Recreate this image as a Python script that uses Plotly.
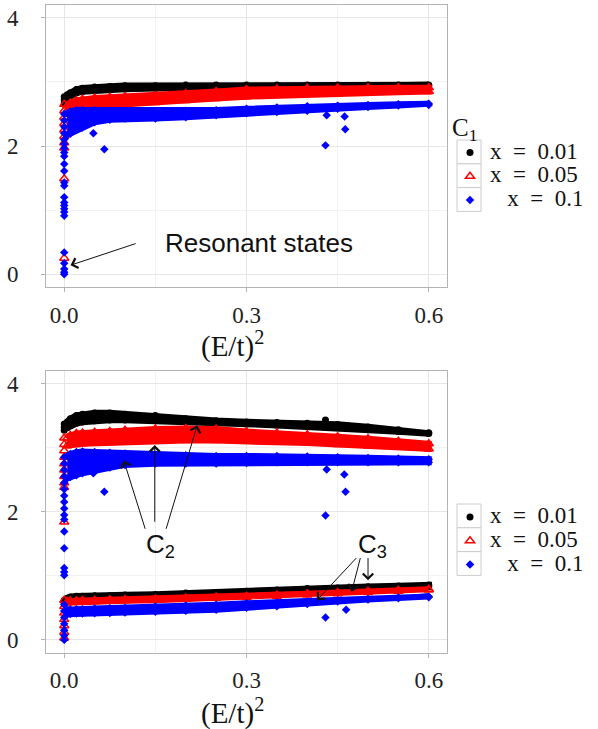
import plotly.graph_objects as go

# ---------------------------------------------------------------------------
# Data: (E/t)^2 positions of the band samples and the band envelopes
# (marker-centre upper / lower values) for each doping x.
# ---------------------------------------------------------------------------
e2 = [0.005, 0.01, 0.02, 0.03, 0.05, 0.075, 0.1, 0.15, 0.2, 0.25,
      0.3, 0.35, 0.4, 0.45, 0.5, 0.55, 0.6]

# Upper panel: C1
c1_x001_hi = [2.80, 2.83, 2.88, 2.90, 2.92, 2.93, 2.94, 2.94, 2.95, 2.95,
              2.95, 2.95, 2.95, 2.95, 2.95, 2.95, 2.95]
c1_x001_lo = [2.75, 2.79, 2.83, 2.85, 2.87, 2.88, 2.89, 2.90, 2.91, 2.91,
              2.92, 2.92, 2.93, 2.93, 2.93, 2.94, 2.94]
c1_x005_hi = [2.63, 2.67, 2.71, 2.73, 2.75, 2.76, 2.77, 2.79, 2.82, 2.85,
              2.88, 2.89, 2.90, 2.905, 2.91, 2.91, 2.91]
c1_x005_lo = [2.55, 2.57, 2.60, 2.62, 2.64, 2.65, 2.66, 2.68, 2.71, 2.74,
              2.77, 2.79, 2.81, 2.82, 2.83, 2.84, 2.85]
c1_x01_hi = [2.51, 2.54, 2.56, 2.56, 2.56, 2.55, 2.54, 2.54, 2.55, 2.56,
             2.58, 2.60, 2.62, 2.63, 2.64, 2.65, 2.66]
c1_x01_lo = [2.17, 2.19, 2.25, 2.29, 2.37, 2.41, 2.43, 2.43, 2.45, 2.48,
             2.51, 2.53, 2.55, 2.58, 2.61, 2.63, 2.64]

# States at E ~ 0 and isolated points (C1)
c1_x001_px = [0.0, 0.0, 0.0]
c1_x001_py = [2.77, 2.72, 2.67]
c1_x005_px = [0.0, 0.0, 0.0, 0.0, 0.0, 0.0, 0.0, 0.0, 0.0, 0.0]
c1_x005_py = [2.65, 2.55, 2.45, 2.35, 2.25, 2.15, 2.05, 1.97, 1.49, 0.25]
c1_x01_px = [0.0] * 24 + [0.048, 0.066, 0.43, 0.432, 0.4615, 0.4625]
c1_x01_py = [2.5, 2.4, 2.3, 2.2, 2.1, 2.03, 1.96, 1.9, 1.84, 1.72, 1.61,
             1.43, 1.38, 1.2, 1.12, 1.07, 1.02, 0.97, 0.91, 0.34, 0.17,
             0.08, 0.03, 0.0,
             2.2, 1.95, 2.01, 2.48, 2.46, 2.26]

# Lower panel: C2 (upper bands)
c2_x001_hi = [3.40, 3.45, 3.50, 3.52, 3.54, 3.54, 3.52, 3.50, 3.45, 3.42,
              3.40, 3.39, 3.38, 3.36, 3.32, 3.28, 3.23]
c2_x001_lo = [3.31, 3.35, 3.38, 3.40, 3.42, 3.43, 3.43, 3.42, 3.41, 3.39,
              3.37, 3.35, 3.33, 3.31, 3.28, 3.25, 3.22]
c2_x005_hi = [3.15, 3.19, 3.22, 3.23, 3.24, 3.25, 3.27, 3.29, 3.30, 3.29,
              3.25, 3.23, 3.20, 3.17, 3.14, 3.10, 3.06]
c2_x005_lo = [3.03, 3.05, 3.05, 3.06, 3.07, 3.08, 3.09, 3.10, 3.11, 3.11,
              3.10, 3.09, 3.07, 3.05, 3.03, 3.01, 2.98]
c2_x01_hi = [2.87, 2.90, 2.93, 2.94, 2.93, 2.92, 2.91, 2.89, 2.88, 2.87,
             2.87, 2.87, 2.86, 2.85, 2.84, 2.83, 2.82]
c2_x01_lo = [2.52, 2.54, 2.57, 2.60, 2.64, 2.69, 2.73, 2.75, 2.75, 2.75,
             2.76, 2.77, 2.77, 2.77, 2.77, 2.77, 2.77]

# Lower panel: C3 (lower bands)
c3_x001_hi = [0.65, 0.67, 0.68, 0.68, 0.69, 0.69, 0.70, 0.71, 0.73, 0.74,
              0.76, 0.78, 0.80, 0.81, 0.83, 0.84, 0.855]
c3_x001_lo = [0.62, 0.64, 0.65, 0.65, 0.66, 0.66, 0.67, 0.68, 0.70, 0.71,
              0.73, 0.75, 0.77, 0.78, 0.80, 0.81, 0.83]
c3_x005_hi = [0.60, 0.61, 0.61, 0.615, 0.62, 0.625, 0.63, 0.64, 0.655, 0.67,
              0.68, 0.70, 0.72, 0.74, 0.76, 0.775, 0.79]
c3_x005_lo = [0.58, 0.59, 0.59, 0.595, 0.60, 0.605, 0.61, 0.62, 0.635, 0.65,
              0.66, 0.68, 0.70, 0.72, 0.74, 0.76, 0.78]
c3_x01_hi = [0.47, 0.475, 0.48, 0.48, 0.49, 0.495, 0.50, 0.52, 0.535, 0.55,
             0.57, 0.585, 0.60, 0.62, 0.64, 0.66, 0.675]
c3_x01_lo = [0.40, 0.405, 0.41, 0.41, 0.415, 0.42, 0.425, 0.44, 0.455, 0.47,
             0.50, 0.525, 0.56, 0.60, 0.63, 0.65, 0.665]

# States at E ~ 0 and isolated points (C2 and C3)
c23_x001_px = [0.0, 0.0, 0.0, 0.0, 0.0, 0.43]
c23_x001_py = [3.37, 3.31, 3.27, 0.62, 0.57, 3.43]
c23_x005_px = [0.0] * 17
c23_x005_py = [3.15, 3.05, 2.95, 2.85, 2.75, 2.65, 2.55, 2.45, 2.38, 1.84,
               0.62, 0.52, 0.42, 0.32, 0.22, 0.12, 0.03]
c23_x01_px = [0.0] * 23 + [0.048, 0.066, 0.432, 0.461, 0.463, 0.43, 0.43, 0.464]
c23_x01_py = [2.85, 2.75, 2.65, 2.55, 2.45, 2.35, 2.25, 2.15, 2.05, 1.95,
              1.88, 1.69, 1.43, 1.12, 1.06, 1.01,
              0.55, 0.45, 0.35, 0.25, 0.15, 0.07, 0.0,
              2.6, 2.31, 2.66, 2.58, 2.31, 1.94, 0.35, 0.47]

labels = ["x&nbsp;&nbsp;=&nbsp;&nbsp;0.01", "x&nbsp;&nbsp;=&nbsp;&nbsp;0.05",
          "&nbsp;&nbsp;&nbsp;x&nbsp;&nbsp;=&nbsp;&nbsp;0.1"]
x_ticks = [0.0, 0.3, 0.6]
x_ticktext = ["0.0", "0.3", "0.6"]
y_ticks = [0, 2, 4]

# ---------------------------------------------------------------------------
SERIF = "Liberation Serif, Times New Roman, serif"
SANS = "Liberation Sans, Arial, sans-serif"
colors = ["#000000", "#ff0000", "#0000ff"]
symbols = ["circle", "triangle-up-open", "diamond"]
msizes = [7, 8, 6.5]
band_w = [6.5, 6, 6]
W, H = 598, 729

fig = go.Figure()


def add_band(hi, lo, k, xa, ya):
    fig.add_trace(go.Scatter(
        x=e2 + e2[::-1], y=hi + lo[::-1], mode="lines", fill="toself",
        fillcolor=colors[k], line=dict(color=colors[k], width=band_w[k]),
        xaxis=xa, yaxis=ya, showlegend=False, hoverinfo="skip"))


def add_points(xs, ys, k, xa, ya, legend):
    fig.add_trace(go.Scatter(
        x=xs, y=ys, mode="markers",
        name=f"<span style='font-size:23px'>{labels[k]}</span>",
        marker=dict(symbol=symbols[k], size=msizes[k], color=colors[k],
                    line=dict(color=colors[k], width=1.5 if k == 1 else 0)),
        xaxis=xa, yaxis=ya, legend=legend))


# Upper panel
top = [(c1_x001_hi, c1_x001_lo, c1_x001_px, c1_x001_py),
       (c1_x005_hi, c1_x005_lo, c1_x005_px, c1_x005_py),
       (c1_x01_hi, c1_x01_lo, c1_x01_px, c1_x01_py)]
for k, (hi, lo, px, py) in enumerate(top):
    add_band(hi, lo, k, "x", "y")
    add_points(e2 + e2 + px, hi + lo + py, k, "x", "y", "legend")

# Lower panel
bottom = [(c2_x001_hi, c2_x001_lo, c3_x001_hi, c3_x001_lo, c23_x001_px, c23_x001_py),
          (c2_x005_hi, c2_x005_lo, c3_x005_hi, c3_x005_lo, c23_x005_px, c23_x005_py),
          (c2_x01_hi, c2_x01_lo, c3_x01_hi, c3_x01_lo, c23_x01_px, c23_x01_py)]
for k, (hi2, lo2, hi3, lo3, px, py) in enumerate(bottom):
    add_band(hi2, lo2, k, "x2", "y2")
    add_band(hi3, lo3, k, "x2", "y2")
    add_points(e2 * 4 + px, hi2 + lo2 + hi3 + lo3 + py, k, "x2", "y2", "legend2")

x_dom = [46 / W, 447 / W]
y1_dom = [1 - 287 / H, 1 - 5 / H]
y2_dom = [1 - 652.7 / H, 1 - 370.7 / H]

axis_common = dict(
    showline=True, mirror=True, linecolor="#b3b3b3", linewidth=1,
    ticks="outside", ticklen=4, tickcolor="#b3b3b3", tickwidth=1,
    showgrid=True, gridcolor="#e6e6e6", gridwidth=1, zeroline=False,
    tickfont=dict(family=SERIF, size=23, color="#222222"),
    automargin=False,
)
xaxis_common = dict(axis_common, range=[-0.03, 0.63], tickvals=x_ticks,
                    ticktext=x_ticktext, ticklabelstandoff=3,
                    minor=dict(tickvals=[0.15, 0.45], showgrid=True,
                               gridcolor="#f2f2f2", gridwidth=1, ticks=""))
yaxis_common = dict(axis_common, range=[-0.2, 4.2], tickvals=y_ticks,
                    ticklabelstandoff=18,
                    minor=dict(tickvals=[1, 3], showgrid=True,
                               gridcolor="#f2f2f2", gridwidth=1, ticks=""))

legend_common = dict(xanchor="left", yanchor="top", bgcolor="rgba(0,0,0,0)",
                     font=dict(family=SERIF, size=16, color="#111111"),
                     tracegroupgap=0, itemclick=False, itemdoubleclick=False)

fig.update_layout(
    width=W, height=H, margin=dict(l=0, r=0, t=0, b=0),
    paper_bgcolor="white", plot_bgcolor="white",
    xaxis=dict(xaxis_common, domain=x_dom, anchor="y"),
    yaxis=dict(yaxis_common, domain=y1_dom, anchor="x"),
    xaxis2=dict(xaxis_common, domain=x_dom, anchor="y2"),
    yaxis2=dict(yaxis_common, domain=y2_dom, anchor="x2"),
    legend=dict(legend_common, x=450 / W, y=1 - 103 / H,
                title=dict(text="C<sub>1</sub>",
                           font=dict(family=SERIF, size=25, color="#111111"))),
    legend2=dict(legend_common, x=450 / W, y=1 - 500 / H),
)

# Axis titles, (E/t)^2 under each panel
for yc in (345, 711):
    fig.add_annotation(x=232 / W, y=1 - yc / H, xref="paper", yref="paper",
                       xanchor="center", yanchor="middle",
                       text="(E/t)<sup>2</sup>", showarrow=False,
                       font=dict(family=SERIF, size=29, color="#111111"))

# Legend key boxes
row_h = 23.8
for top_px in (140, 504):
    for i in range(3):
        y0 = top_px + i * row_h
        fig.add_shape(type="rect", xref="paper", yref="paper",
                      x0=457 / W, x1=481 / W, y0=1 - (y0 + row_h) / H, y1=1 - y0 / H,
                      line=dict(color="#cccccc", width=1), fillcolor="white", layer="below")

# Annotations
ann_font = dict(family=SANS, size=26, color="#111111")
arrow_style = dict(showarrow=True, arrowhead=4, arrowsize=2, arrowwidth=1,
                   arrowcolor="#111111", text="")
fig.add_annotation(x=0.321, y=0.48, xref="x", yref="y", text="Resonant states",
                   showarrow=False, font=ann_font)
fig.add_annotation(x=0.0104, y=0.14, ax=0.12, ay=0.485, xref="x", yref="y",
                   axref="x", ayref="y", **arrow_style)

fig.add_annotation(x=0.159, y=1.48, xref="x2", yref="y2", text="C<sub>2</sub>",
                   showarrow=False, font=ann_font)
for (tx, ty), (hx, hy) in [((0.134, 1.71), (0.098, 2.80)),
                           ((0.149, 1.82), (0.149, 3.04)),
                           ((0.167, 1.71), (0.219, 3.35))]:
    fig.add_annotation(x=hx, y=hy, ax=tx, ay=ty, xref="x2", yref="y2",
                       axref="x2", ayref="y2", **arrow_style)

fig.add_annotation(x=0.508, y=1.48, xref="x2", yref="y2", text="C<sub>3</sub>",
                   showarrow=False, font=ann_font)
for (tx, ty), (hx, hy) in [((0.483, 1.30), (0.416, 0.62)),
                           ((0.488, 1.30), (0.473, 0.75)),
                           ((0.500, 1.30), (0.500, 0.93))]:
    fig.add_annotation(x=hx, y=hy, ax=tx, ay=ty, xref="x2", yref="y2",
                       axref="x2", ayref="y2", **arrow_style)

fig.write_html("out.html")
